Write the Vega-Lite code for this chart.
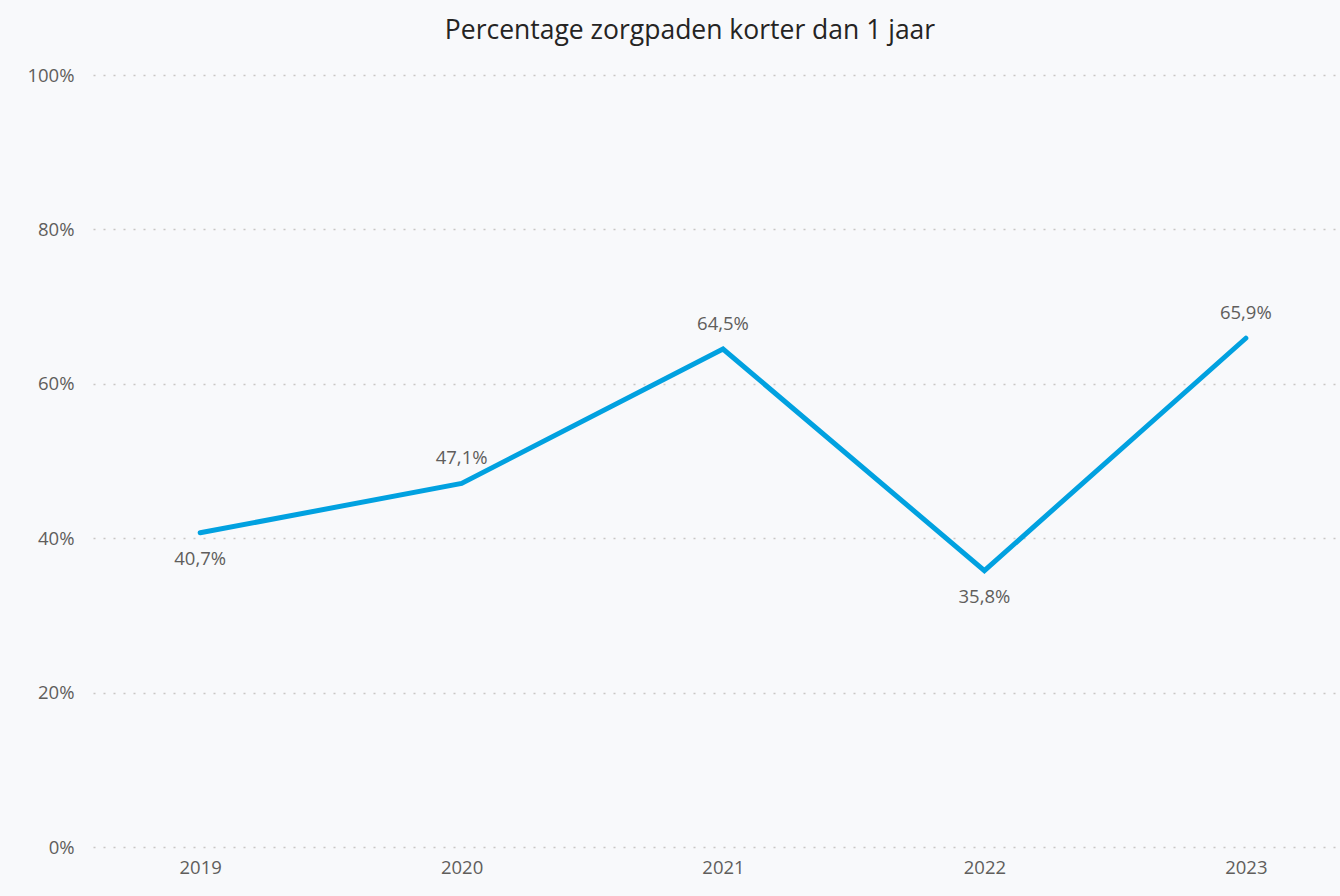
{
  "$schema": "https://vega.github.io/schema/vega-lite/v6.json",
  "autosize": {"type": "none"},
  "padding": {"left": 93, "top": 75, "right": 0, "bottom": 49},
  "width": 1260,
  "height": 772,
  "background": "#f8f9fb",
  "title": {
    "text": "Percentage zorgpaden korter dan 1 jaar",
    "font": "Open Sans",
    "fontSize": 26.5,
    "fontWeight": "normal",
    "color": "#252423",
    "anchor": "middle",
    "dx": -33,
    "offset": 22
  },
  "data": {
    "values": [
      {"jaar": "2019", "pct": 0.407},
      {"jaar": "2020", "pct": 0.471},
      {"jaar": "2021", "pct": 0.645},
      {"jaar": "2022", "pct": 0.358},
      {"jaar": "2023", "pct": 0.659}
    ]
  },
  "encoding": {
    "x": {
      "field": "jaar",
      "type": "ordinal",
      "scale": {"type": "point", "padding": 0.41},
      "axis": {"title": null, "labelAngle": 0, "domain": false, "ticks": false, "labelPadding": 11}
    },
    "y": {
      "field": "pct",
      "type": "quantitative",
      "scale": {"domain": [0, 1]},
      "axis": {
        "title": null,
        "format": ".0%",
        "values": [0, 0.2, 0.4, 0.6, 0.8, 1],
        "domain": false,
        "ticks": false,
        "labelPadding": 19,
        "grid": true,
        "gridColor": "#c8c6c4",
        "gridDash": [2, 8],
        "gridWidth": 1.5
      }
    }
  },
  "layer": [
    {
      "mark": {"type": "line", "color": "#01a1e0", "strokeWidth": 5, "strokeCap": "round", "strokeJoin": "miter"}
    },
    {
      "transform": [{"filter": {"field": "jaar", "oneOf": ["2019", "2022"]}}],
      "mark": {"type": "text", "dy": 26, "font": "Open Sans", "fontSize": 18.5, "color": "#605e5c"},
      "encoding": {"text": {"field": "pct", "type": "quantitative", "format": ".1%"}}
    },
    {
      "transform": [{"filter": {"field": "jaar", "oneOf": ["2020", "2021", "2023"]}}],
      "mark": {"type": "text", "dy": -25, "font": "Open Sans", "fontSize": 18.5, "color": "#605e5c"},
      "encoding": {"text": {"field": "pct", "type": "quantitative", "format": ".1%"}}
    }
  ],
  "config": {
    "locale": {"number": {"decimal": ",", "thousands": ".", "grouping": [3], "currency": ["€", ""]}},
    "view": {"stroke": null},
    "axis": {"labelFont": "Open Sans", "labelFontSize": 18.5, "labelColor": "#605e5c"}
  }
}
